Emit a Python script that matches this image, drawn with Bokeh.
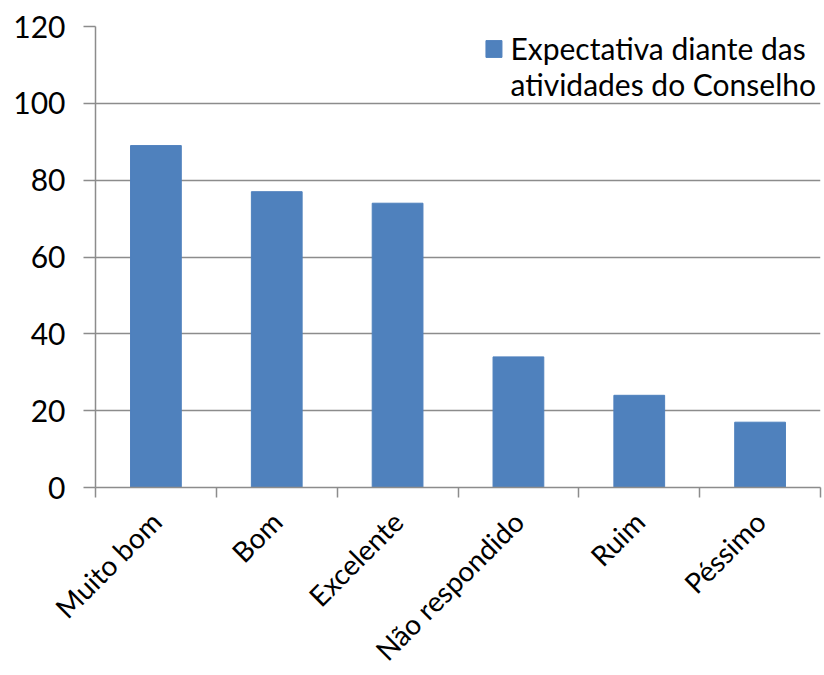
from bokeh.plotting import figure
from bokeh.models import FixedTicker, Legend, LegendItem, ColumnDataSource
from bokeh.embed import file_html
from bokeh.resources import INLINE
import math

categories = ["Muito bom", "Bom", "Excelente", "Não respondido", "Ruim", "Péssimo"]
values = [89, 77, 74, 34, 24, 17]
y_ticks = [0, 20, 40, 60, 80, 100, 120]
series_name_lines = ["Expectativa diante das", "atividades do Conselho"]

FONT = "Lato"
BLUE = "#4F81BD"
GRID = "#8C8C8C"

xs = [i + 0.5 for i in range(len(categories))]
src = ColumnDataSource(dict(x=xs, top=values, cat=categories))

p = figure(frame_width=725, frame_height=461, x_range=(0, len(categories)), y_range=(0, 120),
           output_backend="svg", toolbar_location=None,
           min_border_left=95, min_border_right=4, min_border_top=26, min_border_bottom=180)
p.outline_line_color = None
p.background_fill_color = "white"
p.border_fill_color = "white"

r = p.vbar(x="x", top="top", width=0.42, source=src, fill_color=BLUE, line_color=BLUE)
# invisible stand-in so the series name can wrap onto a second legend line
r_blank = p.vbar(x=[], top=[], width=0.42, fill_alpha=0, line_alpha=0)

# y axis
yax = p.yaxis[0]
yax.ticker = FixedTicker(ticks=y_ticks)
yax.axis_line_color = GRID
yax.axis_line_width = 1.5
yax.major_tick_line_color = GRID
yax.major_tick_line_width = 1.5
yax.major_tick_out = 12
yax.major_tick_in = 0
yax.minor_tick_line_color = None
yax.major_label_text_font = FONT
yax.major_label_text_font_size = "30px"
yax.major_label_text_color = "black"
yax.major_label_standoff = 18

# x axis: labels at centers, ticks at category boundaries
xax = p.xaxis[0]
xax.ticker = FixedTicker(ticks=xs, minor_ticks=list(range(len(categories) + 1)))
xax.major_label_overrides = {x: c for x, c in zip(xs, categories)}
xax.major_tick_line_color = None
xax.minor_tick_line_color = GRID
xax.minor_tick_line_width = 1.5
xax.minor_tick_out = 10
xax.minor_tick_in = 0
xax.axis_line_color = GRID
xax.axis_line_width = 1.5
xax.major_label_orientation = math.pi / 4
xax.major_label_text_font = FONT
xax.major_label_text_font_size = "28px"
xax.major_label_text_color = "black"
xax.major_label_standoff = 19

p.xgrid.grid_line_color = None
p.ygrid.grid_line_color = GRID
p.ygrid.grid_line_width = 1.5

legend = Legend(items=[LegendItem(label=series_name_lines[0], renderers=[r]),
                       LegendItem(label=series_name_lines[1], renderers=[r_blank])],
                location="top_right", border_line_color=None,
                background_fill_alpha=0.0,
                label_text_font=FONT, label_text_font_size="30px",
                label_text_color="black",
                glyph_width=20, glyph_height=21, label_standoff=7,
                margin=4, padding=2, label_height=30, spacing=0)
p.add_layout(legend)

open("out.html", "w").write(file_html(p, INLINE))
